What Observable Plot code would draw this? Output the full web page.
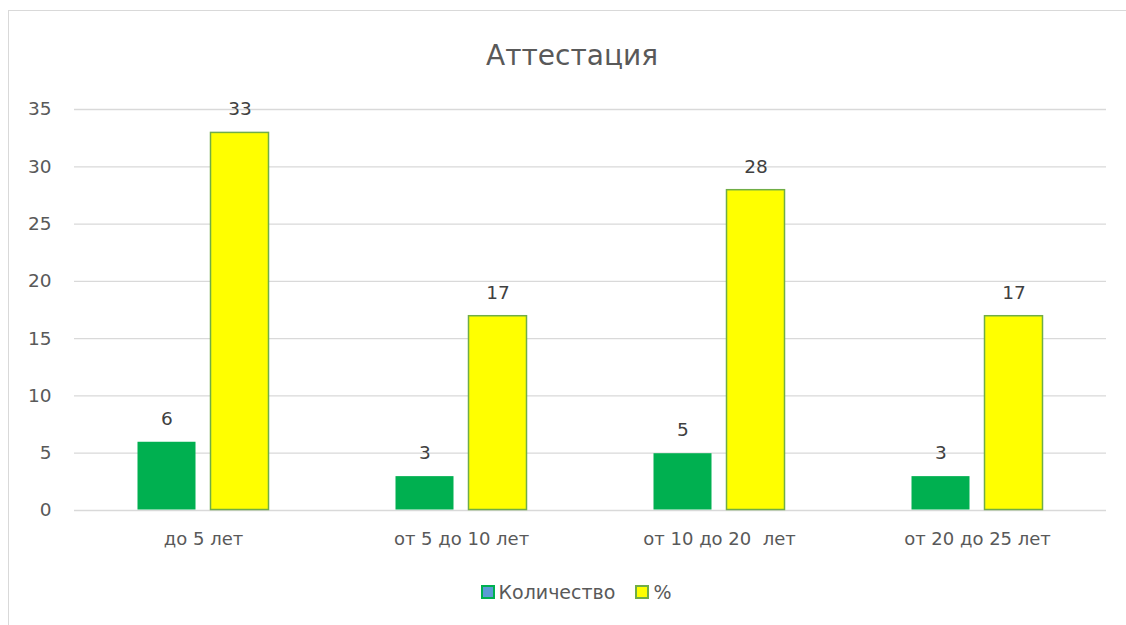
<!DOCTYPE html>
<html>
<head>
<meta charset="utf-8">
<script src="https://cdn.jsdelivr.net/npm/d3@7"></script>
<script src="https://cdn.jsdelivr.net/npm/@observablehq/plot@0.6"></script>
<style>
  html, body { margin: 0; padding: 0; background: #fff; }
  body { width: 1126px; height: 625px; position: relative; overflow: hidden; font-family: "DejaVu Sans", sans-serif; }
  #frame { position: absolute; left: 8px; top: 10px; width: 1130px; height: 640px; border-left: 1.5px solid #d9d9d9; border-top: 1.5px solid #d9d9d9; }
  #title { position: absolute; left: 0; width: 1144px; top: 39px; text-align: center; font-size: 28px; color: #595959; }
  #chart { position: absolute; left: 0; top: 80px; }
  #legend { position: absolute; top: 581px; left: 0; width: 1152px; text-align: center; font-size: 19px; color: #595959; }
  .item { display: inline-flex; align-items: center; margin: 0 10px; }
  .sw { display: inline-block; width: 10px; height: 10px; margin-right: 4px; border: 2px solid; }
</style>
</head>
<body>
<div id="frame"></div>
<div id="title">Аттестация</div>
<div id="chart"></div>
<div id="legend"></div>
<script>
const categories = ["до 5 лет", "от 5 до 10 лет", "от 10 до 20  лет", "от 20 до 25 лет"];
const seriesNames = ["Количество", "%"];
const countValues = [6, 3, 5, 3];
const percentValues = [33, 17, 28, 17];
const yTicks = [0, 5, 10, 15, 20, 25, 30, 35];

const fills = {"Количество": "#00B050", "%": "#FFFF00"};
const strokes = {"Количество": "#00B050", "%": "#70AD47"};
const legendFills = {"Количество": "#5B9BD5", "%": "#FFFF00"};

const data = [];
categories.forEach((c, i) => {
  data.push({category: c, series: seriesNames[0], value: countValues[i]});
  data.push({category: c, series: seriesNames[1], value: percentValues[i]});
});

const chart = Plot.plot({
  width: 1126,
  height: 480,
  marginTop: 29,
  marginBottom: 50,
  marginLeft: 73,
  marginRight: 19,
  style: {fontFamily: "'DejaVu Sans', sans-serif", fontSize: "18px", color: "#595959", background: "transparent"},
  fx: {domain: categories, padding: 0, label: null, axis: null},
  x: {domain: seriesNames, paddingInner: 0.19, paddingOuter: 0.84, axis: null},
  y: {domain: [0, 35], ticks: yTicks, label: null, grid: false, axis: null},
  marks: [
    Plot.ruleY(yTicks, {stroke: "#d9d9d9", strokeWidth: 1.3}),
    Plot.axisY({ticks: yTicks, tickSize: 0, tickPadding: 23, label: null, fill: "#595959", fontSize: 18.5}),
    Plot.axisFx({domain: categories, anchor: "bottom", tickSize: 0, tickPadding: 22, label: null, fill: "#595959", fontSize: 18}),
    Plot.barY(data, {
      fx: "category", x: "series", y: "value",
      fill: d => fills[d.series],
      stroke: d => strokes[d.series],
      strokeWidth: d => d.series === "%" ? 1.5 : 0,
      inset: 0.5
    }),
    Plot.text(data, {
      fx: "category", x: "series", y: "value", text: d => String(d.value),
      lineAnchor: "bottom", dy: -17, fill: "#404040", fontSize: 18.5
    })
  ]
});
document.getElementById("chart").appendChild(chart);

const legend = document.getElementById("legend");
seriesNames.forEach(s => {
  const item = document.createElement("span");
  item.className = "item";
  const sw = document.createElement("span");
  sw.className = "sw";
  sw.style.background = legendFills[s];
  sw.style.borderColor = strokes[s];
  item.appendChild(sw);
  item.appendChild(document.createTextNode(s));
  legend.appendChild(item);
});
</script>
</body>
</html>
